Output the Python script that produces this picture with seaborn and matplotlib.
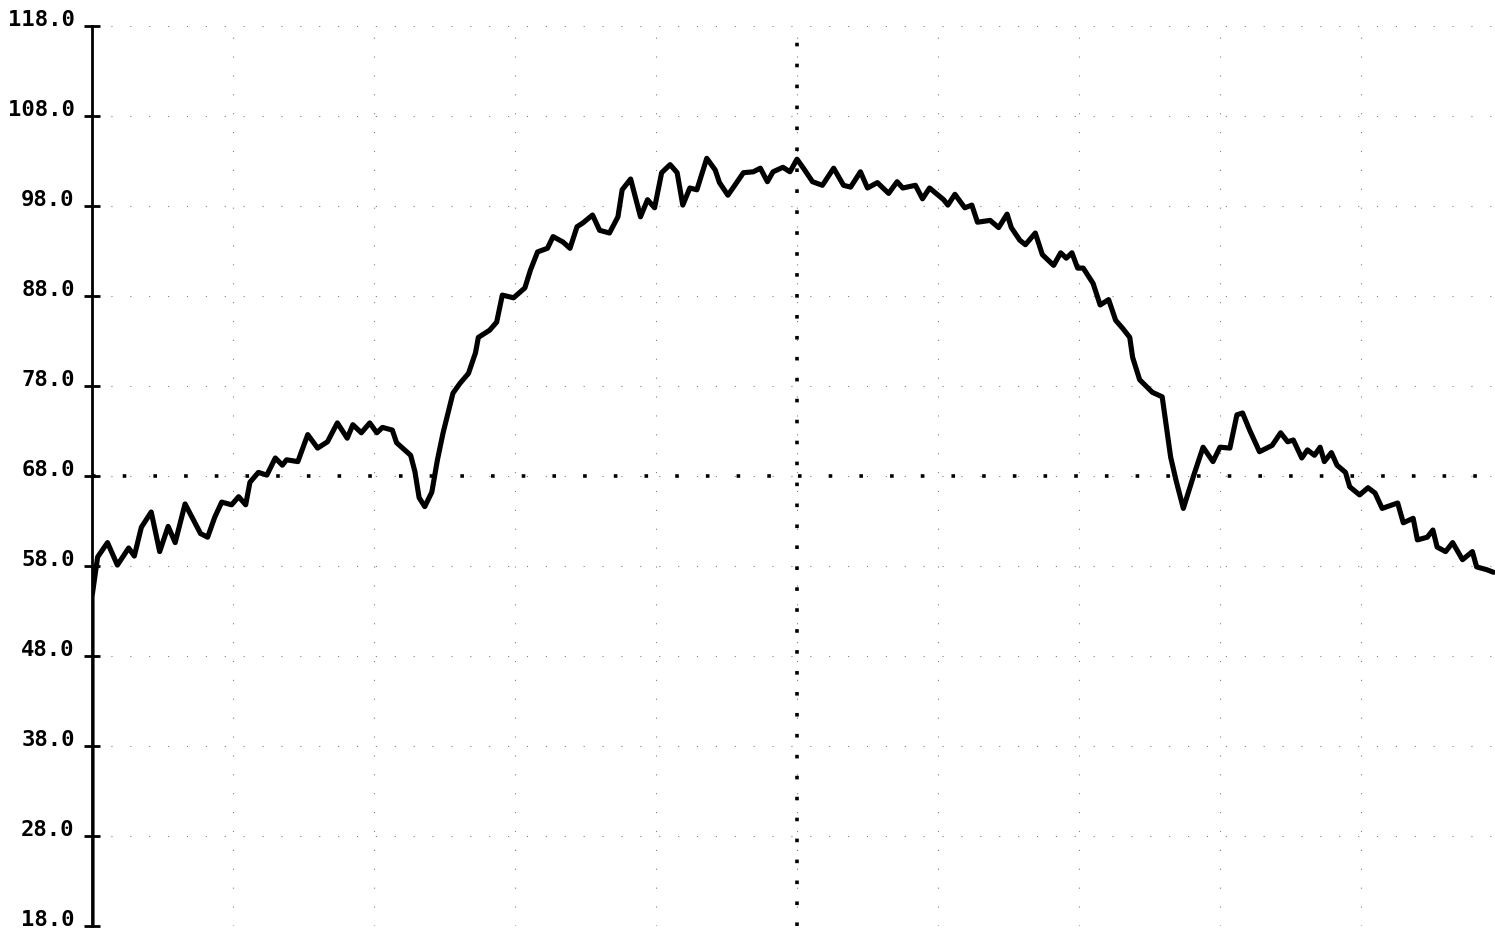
import matplotlib
matplotlib.use('Agg')
import matplotlib.pyplot as plt
import pandas as pd
import seaborn as sns

# trace (x in grid units 0-100, y in chart units)
x = [0.0, 0.0, 0.4, 1.1, 1.8, 2.6, 3.0, 3.5, 4.2, 4.8,
     5.4, 5.9, 6.6, 7.7, 8.2, 8.7, 9.2, 9.9, 10.4, 10.9,
     11.2, 11.8, 12.4, 13.0, 13.5, 13.8, 14.6, 15.3, 16.0, 16.7,
     17.4, 18.1, 18.5, 19.1, 19.7, 20.2, 20.6, 21.3, 21.6, 22.6,
     22.9, 23.2, 23.6, 24.1, 24.5, 24.9, 25.6, 26.1, 26.7, 27.2,
     27.4, 28.2, 28.7, 29.1, 29.9, 30.7, 31.1, 31.6, 32.3, 32.7,
     33.4, 33.9, 34.4, 34.8, 35.5, 36.0, 36.7, 37.3, 37.6, 38.2,
     38.9, 39.4, 39.9, 40.4, 41.0, 41.5, 41.9, 42.4, 42.9, 43.6,
     44.2, 44.5, 45.1, 45.5, 46.2, 46.9, 47.4, 47.9, 48.3, 49.0,
     49.5, 50.0, 50.5, 51.1, 51.8, 52.6, 53.3, 53.8, 54.5, 55.0,
     55.7, 56.5, 57.1, 57.5, 58.4, 58.9, 59.4, 60.4, 60.7, 61.2,
     61.9, 62.4, 62.8, 63.7, 64.3, 64.9, 65.2, 65.8, 66.2, 66.9,
     67.4, 68.2, 68.7, 69.1, 69.5, 69.9, 70.3, 71.0, 71.5, 72.1,
     72.6, 73.1, 73.6, 73.8, 74.3, 75.2, 75.9, 76.5, 76.9, 77.4,
     78.1, 78.8, 79.5, 80.0, 80.7, 81.2, 81.6, 82.1, 82.8, 83.7,
     84.3, 84.8, 85.2, 85.8, 86.2, 86.7, 87.1, 87.4, 87.9, 88.3,
     88.9, 89.2, 89.9, 90.5, 91.0, 91.5, 92.6, 93.0, 93.7, 94.0,
     94.7, 95.1, 95.4, 96.0, 96.5, 97.2, 97.9, 98.2, 98.9, 99.4]
y = [18.0, 54.6, 59.0, 60.6, 58.1, 60.0, 59.1, 62.3, 64.0, 59.6,
     62.4, 60.6, 64.9, 61.6, 61.2, 63.4, 65.1, 64.8, 65.7, 64.8,
     67.3, 68.4, 68.1, 70.0, 69.2, 69.8, 69.6, 72.6, 71.1, 71.8,
     73.9, 72.2, 73.7, 72.8, 73.9, 72.8, 73.4, 73.1, 71.7, 70.3,
     68.5, 65.6, 64.6, 66.2, 69.8, 72.8, 77.2, 78.3, 79.4, 81.7,
     83.4, 84.2, 85.1, 88.1, 87.8, 88.9, 90.9, 92.9, 93.3, 94.6,
     94.0, 93.3, 95.7, 96.1, 97.0, 95.3, 95.0, 96.8, 99.8, 101.0,
     96.8, 98.7, 97.8, 101.7, 102.6, 101.7, 98.1, 100.0, 99.8, 103.3,
     102.0, 100.6, 99.2, 100.1, 101.7, 101.8, 102.2, 100.7, 101.8, 102.3,
     101.8, 103.2, 102.1, 100.7, 100.3, 102.2, 100.3, 100.1, 101.8, 100.0,
     100.6, 99.4, 100.7, 100.0, 100.3, 98.8, 100.0, 98.7, 98.1, 99.3,
     97.8, 98.1, 96.2, 96.4, 95.6, 97.1, 95.6, 94.2, 93.7, 95.0,
     92.6, 91.4, 92.8, 92.2, 92.8, 91.1, 91.1, 89.4, 87.0, 87.6,
     85.3, 84.4, 83.4, 81.2, 78.7, 77.3, 76.8, 70.1, 67.4, 64.4,
     67.9, 71.2, 69.6, 71.2, 71.1, 74.8, 75.0, 73.1, 70.7, 71.4,
     72.8, 71.8, 72.0, 70.0, 70.9, 70.3, 71.2, 69.6, 70.6, 69.2,
     68.4, 66.8, 65.9, 66.7, 66.1, 64.4, 65.0, 62.8, 63.3, 60.9,
     61.2, 62.0, 60.1, 59.6, 60.6, 58.7, 59.6, 57.9, 57.6, 57.3]

y_ticks = [18, 28, 38, 48, 58, 68, 78, 88, 98, 108, 118]
x_grid = [0, 10, 20, 30, 40, 50, 60, 70, 80, 90, 100]
ref_y = 68
ref_x = 50

df = pd.DataFrame({'t': x, 'v': y})

sns.set_style('white')
plt.rcParams['font.family'] = ['DejaVu Sans Mono', 'DejaVu Sans']

fig = plt.figure(figsize=(14.95, 9.32), dpi=100)
ax = fig.add_axes([92/1495, 6/932, 1403/1495, 900/932])

# faint scanned grid
for g in x_grid:
    ax.axvline(g, color='0.5', lw=0.8, ls=(0, (1, 16)), zorder=1)
for g in y_ticks:
    ax.axhline(g, color='0.5', lw=0.8, ls=(0, (1, 16)), zorder=1)

# heavy dotted reference lines
ax.axhline(ref_y, color='black', lw=2.6, ls=(0, (1, 7.5)), zorder=2)
ax.axvline(ref_x, color='black', lw=2.6, ls=(0, (1, 4.8)), zorder=2)

sns.lineplot(data=df, x='t', y='v', ax=ax, color='black', lw=3.7,
             sort=False, estimator=None, zorder=3)

ax.set_xlim(0, 1403/14.1)
ax.set_ylim(18, 118)
ax.set_xticks([])
ax.set_yticks(y_ticks)
ax.set_yticklabels([f'{t:.1f}' for t in y_ticks])
ax.set_xlabel('')
ax.set_ylabel('')
for lab in ax.get_yticklabels():
    lab.set_fontweight('bold')
    lab.set_fontsize(16)
    lab.set_color('black')
    lab.set_verticalalignment('baseline')
ax.tick_params(axis='y', direction='inout', length=11, width=2,
               color='black', pad=7, left=True)

for s in ['top', 'right', 'bottom']:
    ax.spines[s].set_visible(False)
ax.spines['left'].set_linewidth(2)
ax.spines['left'].set_color('black')

fig.savefig('out.png', dpi=100)
